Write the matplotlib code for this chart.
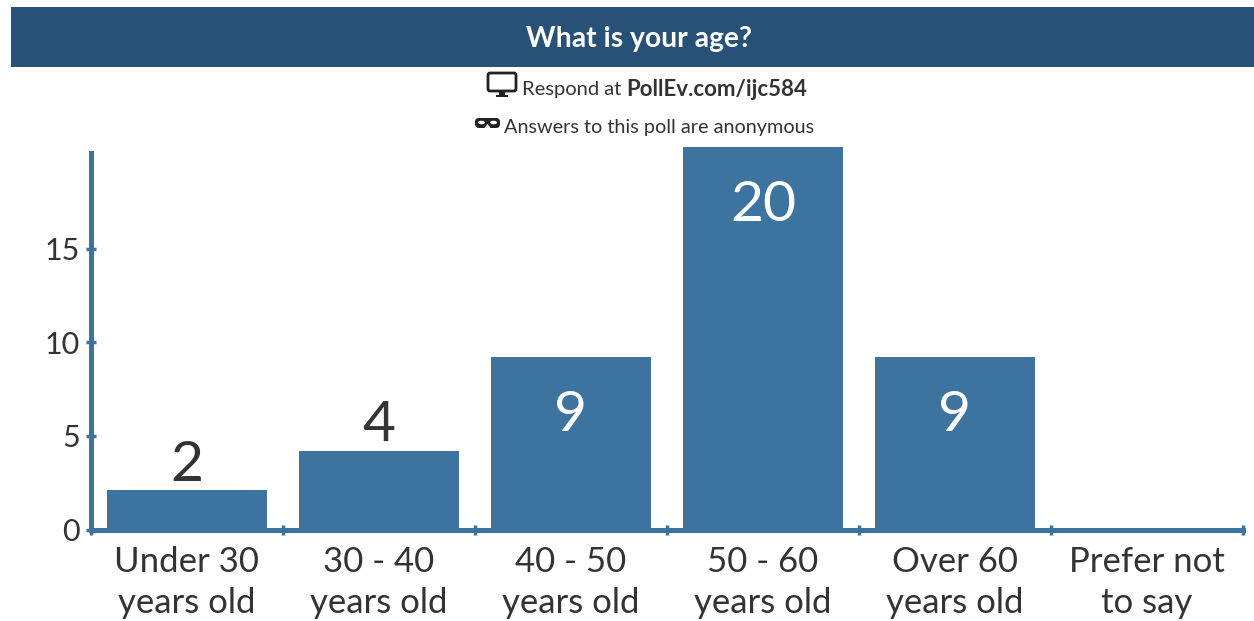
import matplotlib
matplotlib.use("Agg")
from matplotlib import pyplot as plt
from matplotlib.patches import Rectangle, FancyBboxPatch, Ellipse, Polygon

categories = ["Under 30\nyears old", "30 - 40\nyears old", "40 - 50\nyears old",
              "50 - 60\nyears old", "Over 60\nyears old", "Prefer not\nto say"]
votes = [2, 4, 9, 20, 9, 0]
# bar tops as they sit against the y axis in the picture
bar_heights = [2.1, 4.2, 9.2, 20.4, 9.2, 0]
y_ticks = [0, 5, 10, 15]

title = "What is your age?"
respond_text = "Respond at"
respond_url = "PollEv.com/ijc584"
anon_text = "Answers to this poll are anonymous"

W, H = 1254, 621
bar_col = "#3d739f"
text_col = "#333333"
icon_col = "#222222"

plt.rcParams['font.family'] = ['Lato', 'DejaVu Sans']

fig = plt.figure(figsize=(W / 100, H / 100), dpi=100, facecolor="white")

# overlay in pixel coords for the banner, header text and icons
top = fig.add_axes([0, 0, 1, 1])
top.set_xlim(0, W)
top.set_ylim(H, 0)
top.axis("off")

top.add_patch(Rectangle((11, 7), W - 11, 60, facecolor="#275176", edgecolor="none"))
top.text(639, 39, title, color="white", fontsize=20.3, fontweight="bold", ha="center", va="center")

top.text(522, 90, respond_text, color=text_col, fontsize=14.5, ha="left", va="center")
top.text(626, 90, respond_url, color=text_col, fontsize=16, fontweight="bold", ha="left", va="center")
top.text(504, 128, anon_text, color=text_col, fontsize=14.3, ha="left", va="center")

# monitor icon
top.add_patch(FancyBboxPatch((488, 73), 28, 18, boxstyle="round,pad=0,rounding_size=2",
                             facecolor="none", edgecolor=icon_col, linewidth=2))
top.add_patch(Rectangle((499, 91), 6, 5, facecolor=icon_col, edgecolor="none"))
top.add_patch(Rectangle((496, 95), 12, 2, facecolor=icon_col, edgecolor="none"))

# mask icon
top.add_patch(FancyBboxPatch((475, 118), 25, 10, boxstyle="round,pad=0,rounding_size=4",
                             facecolor=icon_col, edgecolor="none"))
top.add_patch(Polygon([(487.5, 124), (484, 128.5), (491, 128.5)], facecolor="white", edgecolor="none"))
for ex in (481.5, 493.5):
    top.add_patch(Ellipse((ex, 122.5), 7, 3.5, facecolor="white", edgecolor="none"))

# axes: left spine at x=91, zero line at y=529.5, 6 bands of 192 px
ax = fig.add_axes([91 / W, 1 - 529.5 / H, 1152 / W, 376.5 / H])
ax.patch.set_alpha(0)
x = range(len(categories))
ax.bar(x, bar_heights, width=0.833, color=bar_col, clip_on=False)
ax.set_xlim(-0.5, 5.5)
ax.set_ylim(0, 20.1)

for i, v in enumerate(votes):
    if v == 0:
        continue
    h = bar_heights[i]
    if v >= 5:
        ax.annotate(str(v), (i, h), xytext=(0, -58), textcoords="offset pixels", color="white",
                    fontsize=41, ha="center", va="center", annotation_clip=False)
    else:
        ax.annotate(str(v), (i, h), xytext=(0, 25), textcoords="offset pixels", color=text_col,
                    fontsize=41, ha="center", va="center")

for s in ["top", "right"]:
    ax.spines[s].set_visible(False)
for s in ["left", "bottom"]:
    ax.spines[s].set_color(bar_col)
    ax.spines[s].set_linewidth(3.6)

ax.set_yticks(y_ticks)
ax.set_xticks([i - 0.5 for i in range(7)])
ax.set_xticklabels([])
ax.tick_params(axis="y", direction="inout", length=7.5, width=2.5, color=bar_col,
               labelsize=22, labelcolor=text_col, pad=4)
ax.tick_params(axis="x", direction="inout", length=7.5, width=2.5, color=bar_col)

for i, c in enumerate(categories):
    ax.annotate(c, (i, 0), xycoords=("data", "axes fraction"), xytext=(0, -17), textcoords="offset pixels",
                ha="center", va="top", fontsize=25, color=text_col, linespacing=1.32)

fig.savefig("out.png", dpi=100)
